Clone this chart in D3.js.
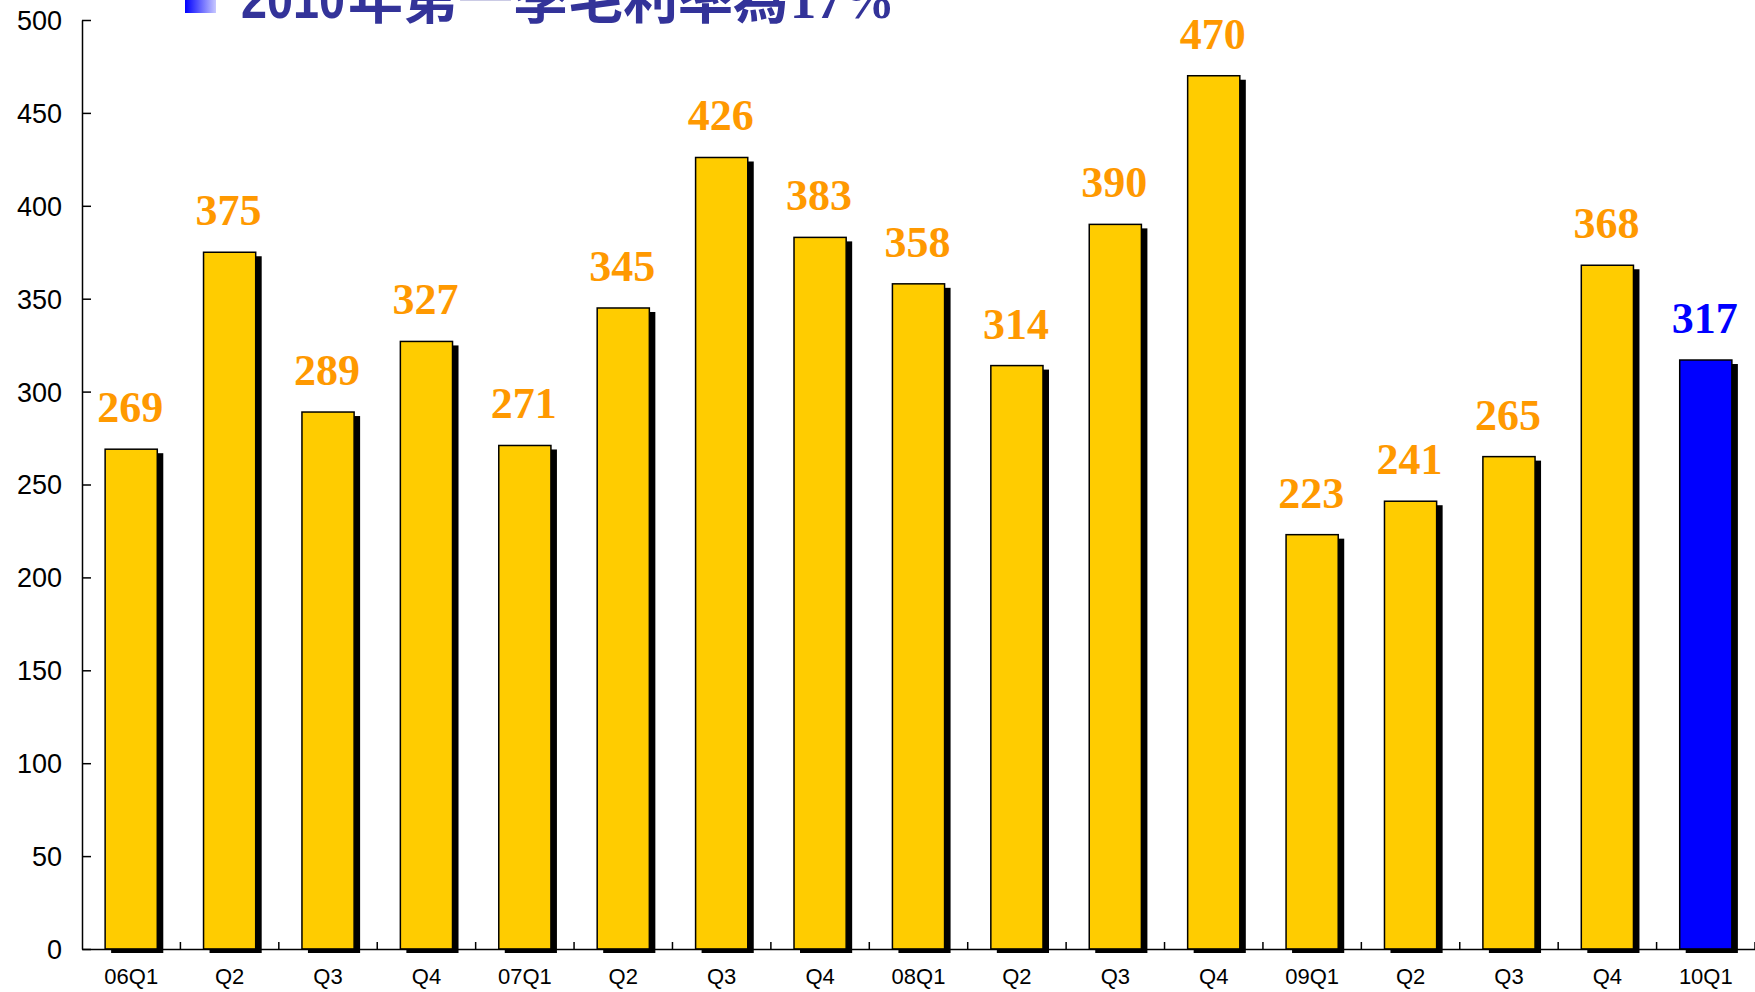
<!DOCTYPE html>
<html>
<head>
<meta charset="utf-8">
<script src="https://cdn.jsdelivr.net/npm/d3@7"></script>
<style>
  html, body { margin: 0; padding: 0; background: #fff; }
  svg { display: block; }
</style>
</head>
<body>
<svg id="chart" width="1755" height="992"></svg>
<script>
const categories = ["06Q1","Q2","Q3","Q4","07Q1","Q2","Q3","Q4","08Q1","Q2","Q3","Q4","09Q1","Q2","Q3","Q4","10Q1"];
const values = [269,375,289,327,271,345,426,383,358,314,390,470,223,241,265,368,317];
const highlight = [false,false,false,false,false,false,false,false,false,false,false,false,false,false,false,false,true];
const yTicks = [0,50,100,150,200,250,300,350,400,450,500];
const titleParts = ["2010","年第一季毛利率為","17%"];

const svg = d3.select("#chart");
const plotLeft = 82, plotRight = 1755, plotTop = 20, plotBottom = 949;

// defs
const defs = svg.append("defs");
const grad = defs.append("linearGradient").attr("id","bulletGrad").attr("x1","0").attr("x2","1").attr("y1","0").attr("y2","0");
grad.append("stop").attr("offset","0").attr("stop-color","#0000ff");
grad.append("stop").attr("offset","1").attr("stop-color","#c8c8ff");

const idx = categories.map((d,i)=>i);
const x = d3.scaleBand().domain(idx).range([plotLeft, plotRight]).paddingInner(0.47).paddingOuter(0.235);
const y = d3.scaleLinear().domain([0,500]).range([plotBottom, plotTop]);

// shadows
svg.append("g").selectAll("rect").data(values).join("rect")
  .attr("x",(d,i)=>x(i)+6)
  .attr("y",d=>y(d)+4)
  .attr("width",x.bandwidth())
  .attr("height",d=>plotBottom-y(d))
  .attr("fill","#000");

// bars
svg.append("g").selectAll("rect").data(values).join("rect")
  .attr("x",(d,i)=>x(i))
  .attr("y",d=>y(d))
  .attr("width",x.bandwidth())
  .attr("height",d=>plotBottom-y(d))
  .attr("fill",(d,i)=>highlight[i]?"#0000ff":"#ffcc00")
  .attr("stroke","#000")
  .attr("stroke-width",1.5);

// value labels
svg.append("g").selectAll("text").data(values).join("text")
  .attr("x",(d,i)=>x(i)+x.bandwidth()/2 - 1)
  .attr("y",d=>y(d)-27)
  .attr("text-anchor","middle")
  .attr("font-family","'Liberation Serif', 'Times New Roman', serif")
  .attr("font-weight","bold")
  .attr("font-size",44)
  .attr("fill",(d,i)=>highlight[i]?"#0000ff":"#ff9900")
  .text(d=>d);

// y axis
const yAxis = d3.axisLeft(y).tickValues(yTicks).tickSize(-9).tickPadding(20).tickSizeOuter(0);
const gy = svg.append("g").attr("transform",`translate(${plotLeft},0)`).call(yAxis);
gy.select(".domain").attr("stroke","#000").attr("stroke-width",1.5);
gy.selectAll(".tick line").attr("stroke","#000").attr("stroke-width",1.5);
gy.selectAll(".tick text")
  .attr("font-family","'Liberation Sans', Arial, sans-serif")
  .attr("font-size",27)
  .attr("fill","#000")
  .attr("dy","0.35em");

// x axis
const xAxis = d3.axisBottom(x).tickSize(0).tickPadding(19).tickFormat(i=>categories[i]).tickSizeOuter(0);
const gx = svg.append("g").attr("transform",`translate(0,${plotBottom})`).call(xAxis);
gx.select(".domain").attr("stroke","#000").attr("stroke-width",1.5);
gx.selectAll(".tick text")
  .attr("font-family","'Liberation Sans', Arial, sans-serif")
  .attr("font-size",22)
  .attr("fill","#000");

// x boundary ticks (inward)
svg.append("g").selectAll("line").data(idx).join("line")
  .attr("x1",i=>x(i)+x.bandwidth()+x.step()*x.paddingInner()/2)
  .attr("x2",i=>x(i)+x.bandwidth()+x.step()*x.paddingInner()/2)
  .attr("y1",plotBottom)
  .attr("y2",plotBottom-7)
  .attr("stroke","#000")
  .attr("stroke-width",1.5);

// title (cut off at top)
svg.append("rect").attr("x",185).attr("y",-18).attr("width",31).attr("height",31).attr("fill","url(#bulletGrad)");
const title = svg.append("text").attr("y",18).attr("fill","#333399").attr("font-weight","bold").attr("font-size",55);
title.append("tspan").attr("x",241).attr("font-family","'Liberation Sans', Arial, sans-serif").attr("textLength",104).attr("lengthAdjust","spacingAndGlyphs").text(titleParts[0]);
title.append("tspan").attr("x",348).attr("font-family","'Noto Sans CJK TC', sans-serif").attr("textLength",440).attr("lengthAdjust","spacingAndGlyphs").text(titleParts[1]);
title.append("tspan").attr("x",790).attr("font-family","'Liberation Serif', serif").attr("textLength",105).attr("lengthAdjust","spacingAndGlyphs").text(titleParts[2]);
</script>
</body>
</html>
